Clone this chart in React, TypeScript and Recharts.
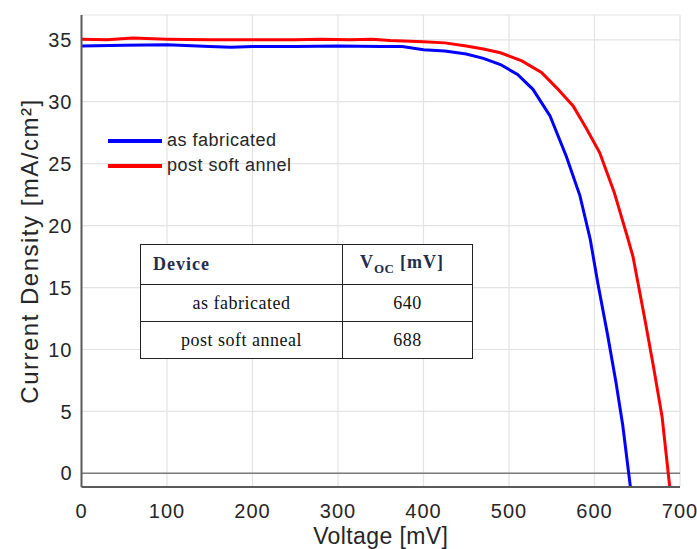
import React from "react";
import {
  LineChart,
  Line,
  XAxis,
  YAxis,
  CartesianGrid,
  ReferenceLine,
  Legend,
} from "recharts";

const xTicks = [0, 100, 200, 300, 400, 500, 600, 700];
const yTicks = [0, 5, 10, 15, 20, 25, 30, 35];

const fabVoltage = [0, 50, 100, 150, 175, 200, 250, 300, 350, 375, 400, 425, 450, 470, 490, 510, 528, 548, 567, 583, 595, 604, 615, 625, 633, 642];
const fabCurrent = [34.5, 34.55, 34.6, 34.45, 34.4, 34.45, 34.45, 34.5, 34.45, 34.45, 34.2, 34.1, 33.85, 33.5, 33.0, 32.2, 31.0, 28.85, 25.6, 22.4, 18.9, 15.3, 11.3, 7.4, 3.9, -1.1];

const annealVoltage = [0, 30, 60, 100, 150, 200, 250, 280, 314, 340, 361, 400, 425, 450, 470, 490, 515, 538, 556, 575, 590, 606, 623, 638, 645, 659, 669, 679, 688];
const annealCurrent = [35.05, 35.0, 35.15, 35.05, 35.0, 35.0, 35.0, 35.05, 35.0, 35.05, 34.95, 34.85, 34.75, 34.5, 34.25, 33.95, 33.3, 32.36, 31.1, 29.66, 27.9, 25.9, 22.7, 19.2, 17.5, 12.4, 8.6, 4.6, -1.1];

const seriesNames = ["as fabricated", "post soft annel"];
const seriesColors = ["#0000ff", "#ff0000"];

const tableRows = [
  ["as fabricated", "640"],
  ["post soft anneal", "688"],
];

const fabData = fabVoltage.map((v, i) => ({ v, j: fabCurrent[i] }));
const annealData = annealVoltage.map((v, i) => ({ v, j: annealCurrent[i] }));

const sans = "'Liberation Sans', Arial, sans-serif";
const serif = "'Liberation Serif', 'Times New Roman', serif";
const axisColor = "#5a5a5a";
const textColor = "#262626";

function LegendBox() {
  return (
    <div style={{ position: "absolute", left: 108, top: 128, fontFamily: sans, fontSize: 18, letterSpacing: 0.5, color: textColor }}>
      {seriesNames.map((name, i) => (
        <div key={name} style={{ display: "flex", alignItems: "center", height: 25 }}>
          <div style={{ width: 54, height: 4, background: seriesColors[i], marginRight: 5 }} />
          <span>{name}</span>
        </div>
      ))}
    </div>
  );
}

function VocTable() {
  const cell: React.CSSProperties = { border: "1.5px solid #222", padding: 0, fontSize: 18, letterSpacing: 0.5 };
  return (
    <table
      style={{
        position: "absolute",
        left: 140,
        top: 244,
        width: 332,
        height: 114,
        borderCollapse: "collapse",
        tableLayout: "fixed",
        fontFamily: serif,
        background: "#fff",
        color: "#111",
      }}
    >
      <colgroup>
        <col style={{ width: 202 }} />
        <col style={{ width: 130 }} />
      </colgroup>
      <tbody>
        <tr style={{ height: 40 }}>
          <td style={{ ...cell, paddingLeft: 12, fontWeight: "bold", color: "#1f2e4e", letterSpacing: 1 }}>Device</td>
          <td style={{ ...cell, paddingLeft: 17, fontWeight: "bold", color: "#1f2e4e", letterSpacing: 1 }}>
            V<sub style={{ fontSize: 13, letterSpacing: 0.5 }}>OC</sub> [mV]
          </td>
        </tr>
        {tableRows.map((r) => (
          <tr key={r[0]} style={{ height: 37 }}>
            <td style={{ ...cell, textAlign: "center" }}>{r[0]}</td>
            <td style={{ ...cell, textAlign: "center" }}>{r[1]}</td>
          </tr>
        ))}
      </tbody>
    </table>
  );
}

export default function App() {
  const tickStyle = { fill: textColor, fontSize: 20, fontFamily: sans, letterSpacing: 1 };
  return (
    <div style={{ position: "absolute", left: 0, top: 0, width: 697, height: 549, background: "#fff", overflow: "hidden" }}>
      <LineChart width={697} height={549} margin={{ top: 15, right: 17, bottom: 0, left: 0 }}>
        <CartesianGrid stroke="#e3e3e3" strokeWidth={1.2} />
        <XAxis
          type="number"
          dataKey="v"
          domain={[0, 700]}
          ticks={xTicks}
          allowDataOverflow
          height={62}
          stroke={axisColor}
          strokeWidth={2}
          tickLine={false}
          tickMargin={11}
          tick={tickStyle}
          label={{ value: "Voltage [mV]", position: "insideBottom", offset: 5, fill: textColor, fontSize: 23, fontFamily: sans, letterSpacing: 0.4 }}
        />
        <XAxis
          xAxisId="top"
          orientation="top"
          type="number"
          domain={[0, 700]}
          ticks={xTicks}
          stroke={axisColor}
          strokeWidth={2}
          tick={false}
          mirror
          tickSize={5}
          height={0}
        />
        <YAxis
          type="number"
          domain={[-1.1, 37]}
          ticks={yTicks}
          allowDataOverflow
          width={81.5}
          stroke={axisColor}
          strokeWidth={2}
          tickLine={false}
          tickMargin={3}
          tick={tickStyle}
          label={{
            value: "Current Density [mA/cm²]",
            angle: -90,
            position: "insideLeft",
            offset: 29,
            style: { textAnchor: "middle", letterSpacing: 1.5 },
            fill: textColor,
            fontSize: 24,
            fontFamily: sans,
          }}
        />
        <YAxis
          yAxisId="right"
          orientation="right"
          type="number"
          domain={[-1.1, 37]}
          ticks={yTicks}
          stroke={axisColor}
          strokeWidth={2}
          tick={false}
          mirror
          tickSize={5}
          width={0}
        />
        <ReferenceLine y={0} stroke="#7a7a7a" strokeWidth={1.5} />
        <Legend content={() => null} />
        <Line data={fabData} dataKey="j" name={seriesNames[0]} type="linear" stroke={seriesColors[0]} strokeWidth={3} dot={false} isAnimationActive={false} />
        <Line data={annealData} dataKey="j" name={seriesNames[1]} type="linear" stroke={seriesColors[1]} strokeWidth={3} dot={false} isAnimationActive={false} />
      </LineChart>
      <LegendBox />
      <VocTable />
    </div>
  );
}
